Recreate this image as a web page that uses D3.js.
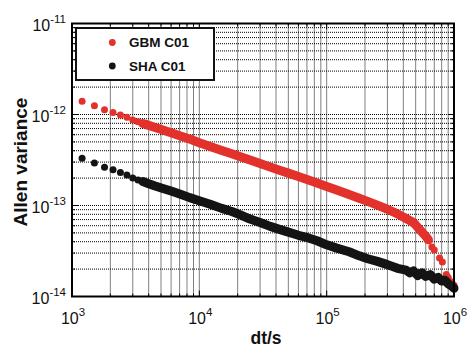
<!DOCTYPE html>
<html>
<head>
<meta charset="utf-8">
<script src="https://cdn.jsdelivr.net/npm/d3@7"></script>
<style>
  body { margin: 0; background: #fff; }
  svg text { font-family: "Liberation Sans", Arial, sans-serif; fill: #111; }
</style>
</head>
<body>
<div id="chart"></div>
<script>
// averaging time dt (s) and Allan variance
const tauGBM = [1200, 1500, 1800, 2100, 2400, 2700, 3000, 3300, 3600, 3900, 4500, 5100, 6000, 7200, 8400,
  10000, 12000, 15000, 18000, 21000, 25000, 30000, 36000, 42000, 50000, 60000, 72000, 84000,
  100000, 120000, 150000, 180000, 210000, 250000, 300000, 360000, 420000, 480000, 540000, 600000, 630000,
  670000, 700000, 770000, 810000, 870000, 900000, 960000, 1000000];
const valGBM = [1.40e-12, 1.25e-12, 1.13e-12, 1.05e-12, 9.9e-13, 9.3e-13, 8.7e-13, 8.3e-13, 7.98e-13, 7.69e-13, 7.19e-13, 6.79e-13, 6.30e-13, 5.78e-13, 5.38e-13,
  4.90e-13, 4.49e-13, 4.03e-13, 3.70e-13, 3.43e-13, 3.16e-13, 2.89e-13, 2.65e-13, 2.46e-13, 2.27e-13, 2.08e-13, 1.91e-13, 1.77e-13,
  1.62e-13, 1.48e-13, 1.32e-13, 1.20e-13, 1.11e-13, 1.01e-13, 9.1e-14, 8.1e-14, 7.2e-14, 6.5e-14, 5.4e-14, 4.6e-14, 4.2e-14,
  3.5e-14, 3.25e-14, 2.65e-14, 2.4e-14, 1.74e-14, 1.62e-14, 1.45e-14, 1.33e-14];

const tauSHA = [1200, 1500, 1800, 2100, 2400, 2700, 3000, 3300, 3600, 3900, 4500, 5100, 6000, 7200, 8400,
  10000, 12000, 15000, 18000, 21000, 25000, 30000, 36000, 42000, 50000, 60000, 72000, 84000,
  100000, 120000, 150000, 180000, 210000, 250000, 300000, 360000, 420000, 450000, 480000, 520000, 560000,
  600000, 650000, 700000, 750000, 800000, 850000, 900000, 950000, 1000000];
const valSHA = [3.30e-13, 2.93e-13, 2.63e-13, 2.47e-13, 2.31e-13, 2.16e-13, 2.00e-13, 1.91e-13, 1.83e-13, 1.76e-13, 1.64e-13, 1.55e-13, 1.44e-13, 1.32e-13, 1.22e-13,
  1.13e-13, 1.04e-13, 9.3e-14, 8.6e-14, 7.9e-14, 7.1e-14, 6.5e-14, 5.9e-14, 5.5e-14, 5.1e-14, 4.7e-14, 4.4e-14, 4.1e-14,
  3.7e-14, 3.4e-14, 3.1e-14, 2.8e-14, 2.6e-14, 2.43e-14, 2.24e-14, 2.04e-14, 1.95e-14, 1.82e-14, 1.91e-14, 1.70e-14, 1.82e-14,
  1.66e-14, 1.74e-14, 1.55e-14, 1.62e-14, 1.48e-14, 1.51e-14, 1.38e-14, 1.32e-14, 1.23e-14];

const seriesNames = ['GBM C01', 'SHA C01'];
const xTickExp = [3, 4, 5, 6];
const yTickExp = [-11, -12, -13, -14];

const width = 468, height = 347;
const margin = {top: 23.5, right: 14, bottom: 50.5, left: 72};
const w = width - margin.left - margin.right;
const h = height - margin.top - margin.bottom;

const series = [
  {name: seriesNames[0], tau: tauGBM, val: valGBM, color: '#e3322b', bandFrom: 3600, bandTo: 630000},
  {name: seriesNames[1], tau: tauSHA, val: valSHA, color: '#141414', bandFrom: 3600, bandTo: 1e6}
];

const svg = d3.select('#chart').append('svg')
  .attr('width', width)
  .attr('height', height);

const x = d3.scaleLog().domain([1e3, 1e6]).range([0, w]);
const y = d3.scaleLog().domain([1e-14, 1e-11]).range([h, 0]);

const g = svg.append('g')
  .attr('transform', 'translate(' + margin.left + ',' + margin.top + ')');

// every decade step 1..9 for grid and ticks
const xMinor = [], yMinor = [];
for (let e = 3; e < 6; e++) for (let m = 1; m < 10; m++) xMinor.push(m * Math.pow(10, e));
xMinor.push(1e6);
for (let e = -14; e < -11; e++) for (let m = 1; m < 10; m++) yMinor.push(m * Math.pow(10, e));
yMinor.push(1e-11);

// dotted grid
g.append('g').selectAll('line').data(xMinor).enter().append('line')
  .attr('x1', d => x(d)).attr('x2', d => x(d))
  .attr('y1', 0).attr('y2', h)
  .attr('stroke', '#000').attr('stroke-width', 1).attr('stroke-dasharray', '1,1');
g.append('g').selectAll('line').data(yMinor).enter().append('line')
  .attr('y1', d => y(d)).attr('y2', d => y(d))
  .attr('x1', 0).attr('x2', w)
  .attr('stroke', '#000').attr('stroke-width', 1).attr('stroke-dasharray', '1,1');

// inward ticks on all four sides
const isMajor = v => Math.abs(Math.log10(v) - Math.round(Math.log10(v))) < 1e-9;
const ticks = g.append('g').attr('stroke', '#000').attr('stroke-width', 1);
xMinor.forEach(v => {
  const len = isMajor(v) ? 6 : 3;
  ticks.append('line').attr('x1', x(v)).attr('x2', x(v)).attr('y1', h).attr('y2', h - len);
  ticks.append('line').attr('x1', x(v)).attr('x2', x(v)).attr('y1', 0).attr('y2', len);
});
yMinor.forEach(v => {
  const len = isMajor(v) ? 6 : 3;
  ticks.append('line').attr('y1', y(v)).attr('y2', y(v)).attr('x1', 0).attr('x2', len);
  ticks.append('line').attr('y1', y(v)).attr('y2', y(v)).attr('x1', w).attr('x2', w - len);
});

// data: thick band where the points overlap, plus the markers themselves
const line = d3.line().x(d => x(d[0])).y(d => y(d[1]));
series.forEach(s => {
  const pts = s.tau.map((t, i) => [t, s.val[i]]);
  const band = pts.filter(p => p[0] >= s.bandFrom && p[0] <= s.bandTo);
  g.append('path').datum(band)
    .attr('d', line)
    .attr('fill', 'none')
    .attr('stroke', s.color)
    .attr('stroke-width', 9)
    .attr('stroke-linecap', 'round')
    .attr('stroke-linejoin', 'round');
  g.append('g').selectAll('circle').data(pts).enter().append('circle')
    .attr('cx', d => x(d[0]))
    .attr('cy', d => y(d[1]))
    .attr('r', 3.5)
    .attr('fill', s.color);
});

// frame
g.append('rect').attr('width', w).attr('height', h)
  .attr('fill', 'none').attr('stroke', '#000').attr('stroke-width', 2);

// legend
const lg = svg.append('g');
lg.append('rect').attr('x', 76).attr('y', 28).attr('width', 138).attr('height', 52)
  .attr('fill', '#fff').attr('stroke', '#111').attr('stroke-width', 2);
series.forEach((s, i) => {
  const ly = 42.5 + i * 23.5;
  lg.append('circle').attr('cx', 112.3).attr('cy', ly).attr('r', 3.4).attr('fill', s.color);
  lg.append('text').attr('x', 129).attr('y', ly + 4.8)
    .attr('font-size', 13.5).attr('font-weight', 'bold').text(s.name);
});

// x tick labels
xTickExp.forEach(e => {
  const t = g.append('text')
    .attr('x', x(Math.pow(10, e)) + 1)
    .attr('y', h + 27)
    .attr('text-anchor', 'middle')
    .attr('font-size', 16);
  t.append('tspan').text('10');
  t.append('tspan').attr('dy', -8).attr('font-size', 11.5).text(e);
});

// y tick labels
yTickExp.forEach(e => {
  const t = g.append('text')
    .attr('x', -6)
    .attr('y', y(Math.pow(10, e)) + 7)
    .attr('text-anchor', 'end')
    .attr('font-size', 16);
  t.append('tspan').text('10');
  t.append('tspan').attr('dy', -8).attr('font-size', 11.5).text(e);
});

// axis titles
svg.append('text')
  .attr('x', margin.left + w / 2 + 3)
  .attr('y', 344)
  .attr('text-anchor', 'middle')
  .attr('font-size', 17.5).attr('font-weight', 'bold')
  .text('dt/s');
svg.append('text')
  .attr('transform', 'translate(27,162) rotate(-90)')
  .attr('text-anchor', 'middle')
  .attr('font-size', 19).attr('font-weight', 'bold')
  .text('Allen variance');
</script>
</body>
</html>
